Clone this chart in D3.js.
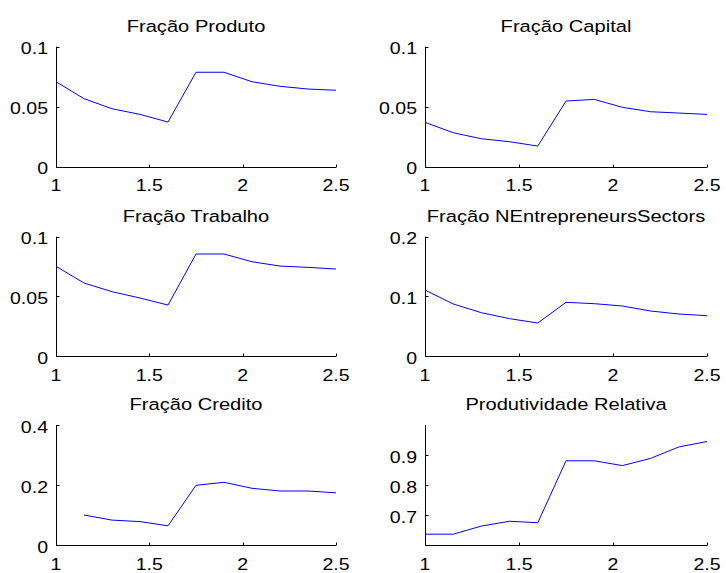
<!DOCTYPE html>
<html>
<head>
<meta charset="utf-8">
<script src="https://cdn.jsdelivr.net/npm/d3@7"></script>
<style>
  html, body { margin: 0; padding: 0; background: #fff; }
  text { font-family: "Liberation Sans", Arial, Helvetica, sans-serif; fill: #000; }
</style>
</head>
<body>
<svg id="chart" width="726" height="573"></svg>
<script>
// ---- data ----
const xValues = [1, 1.15, 1.3, 1.45, 1.6, 1.75, 1.9, 2.05, 2.2, 2.35, 2.5];
const titles = ["Fração Produto", "Fração Capital", "Fração Trabalho",
                "Fração NEntrepreneursSectors", "Fração Credito", "Produtividade Relativa"];
const produto   = [0.0708, 0.0567, 0.0483, 0.0436, 0.0372, 0.0787, 0.0787, 0.0708, 0.0670, 0.0647, 0.0637];
const capital   = [0.0370, 0.0283, 0.0233, 0.0208, 0.0172, 0.0547, 0.0561, 0.0495, 0.0458, 0.0447, 0.0436];
const trabalho  = [0.0752, 0.0612, 0.0539, 0.0486, 0.0427, 0.0855, 0.0855, 0.0790, 0.0754, 0.0743, 0.0729];
const nentrep   = [0.1106, 0.0872, 0.0726, 0.0626, 0.0553, 0.0900, 0.0877, 0.0838, 0.0754, 0.0704, 0.0676];
const credito   = [null, 0.100, 0.083, 0.078, 0.064, 0.199, 0.209, 0.189, 0.180, 0.180, 0.174];
const produtiv  = [0.637, 0.637, 0.664, 0.680, 0.675, 0.881, 0.881, 0.865, 0.889, 0.927, 0.945];
const seriesList = [produto, capital, trabalho, nentrep, credito, produtiv];
const xTicks = [1, 1.5, 2, 2.5];
const yDomains = [[0, 0.1], [0, 0.1], [0, 0.1], [0, 0.2], [0, 0.4], [0.601, 1.0]];
const yTicksList = [[0, 0.05, 0.1], [0, 0.05, 0.1], [0, 0.05, 0.1], [0, 0.1, 0.2], [0, 0.2, 0.4], [0.7, 0.8, 0.9]];

// ---- layout ----
const cols = [[56, 336], [425, 707]];
const rows = [[46.7, 166.7], [236.7, 356], [425, 545]];
const tickFont = 17, tickStretch = 1.15;
const titleFont = 16.5, titleStretch = 1.22;

const svg = d3.select("#chart");

function stretchedText(g, x, y, str, size, stretch, anchor, baseline) {
  const gg = g.append("g").attr("transform", `translate(${x},${y}) scale(${stretch},1)`);
  gg.append("text").attr("x", 0).attr("y", 0)
    .attr("font-size", size).attr("text-anchor", anchor)
    .attr("dominant-baseline", baseline || "auto")
    .text(str);
}

seriesList.forEach((vals, i) => {
  const c = cols[i % 2], r = rows[Math.floor(i / 2)];
  const x = d3.scaleLinear().domain([1, 2.5]).range(c);
  const y = d3.scaleLinear().domain(yDomains[i]).range([r[1], r[0]]);
  const g = svg.append("g");

  // axes lines
  const x0 = Math.round(c[0]) + 0.5, yb = Math.round(r[1]) + 0.5;
  g.append("line").attr("x1", x0).attr("x2", x0).attr("y1", r[0]).attr("y2", yb)
    .attr("stroke", "#000").attr("stroke-width", 1);
  g.append("line").attr("x1", x0).attr("x2", c[1]).attr("y1", yb).attr("y2", yb)
    .attr("stroke", "#000").attr("stroke-width", 1);

  // x ticks (inward)
  xTicks.forEach(t => {
    const px = Math.round(x(t)) + 0.5;
    g.append("line").attr("x1", px).attr("x2", px).attr("y1", yb).attr("y2", yb - 3)
      .attr("stroke", "#000");
    stretchedText(g, x(t), r[1] + 24.5, String(t), tickFont, tickStretch, "middle");
  });
  // y ticks (inward)
  yTicksList[i].forEach(t => {
    const py = Math.round(y(t)) + 0.5;
    g.append("line").attr("x1", x0).attr("x2", x0 + 3).attr("y1", py).attr("y2", py)
      .attr("stroke", "#000");
    stretchedText(g, c[0] - 8, y(t) + 7.5, String(t), tickFont, tickStretch, "end");
  });

  // title
  stretchedText(g, (c[0] + c[1]) / 2, r[0] - 15, titles[i], titleFont, titleStretch, "middle");

  // line
  const line = d3.line()
    .defined((d, j) => vals[j] !== null)
    .x((d, j) => x(xValues[j]))
    .y((d, j) => y(vals[j]));
  g.append("path").datum(vals).attr("d", line)
    .attr("fill", "none").attr("stroke", "#0000ff").attr("stroke-width", 1);
});
</script>
</body>
</html>
